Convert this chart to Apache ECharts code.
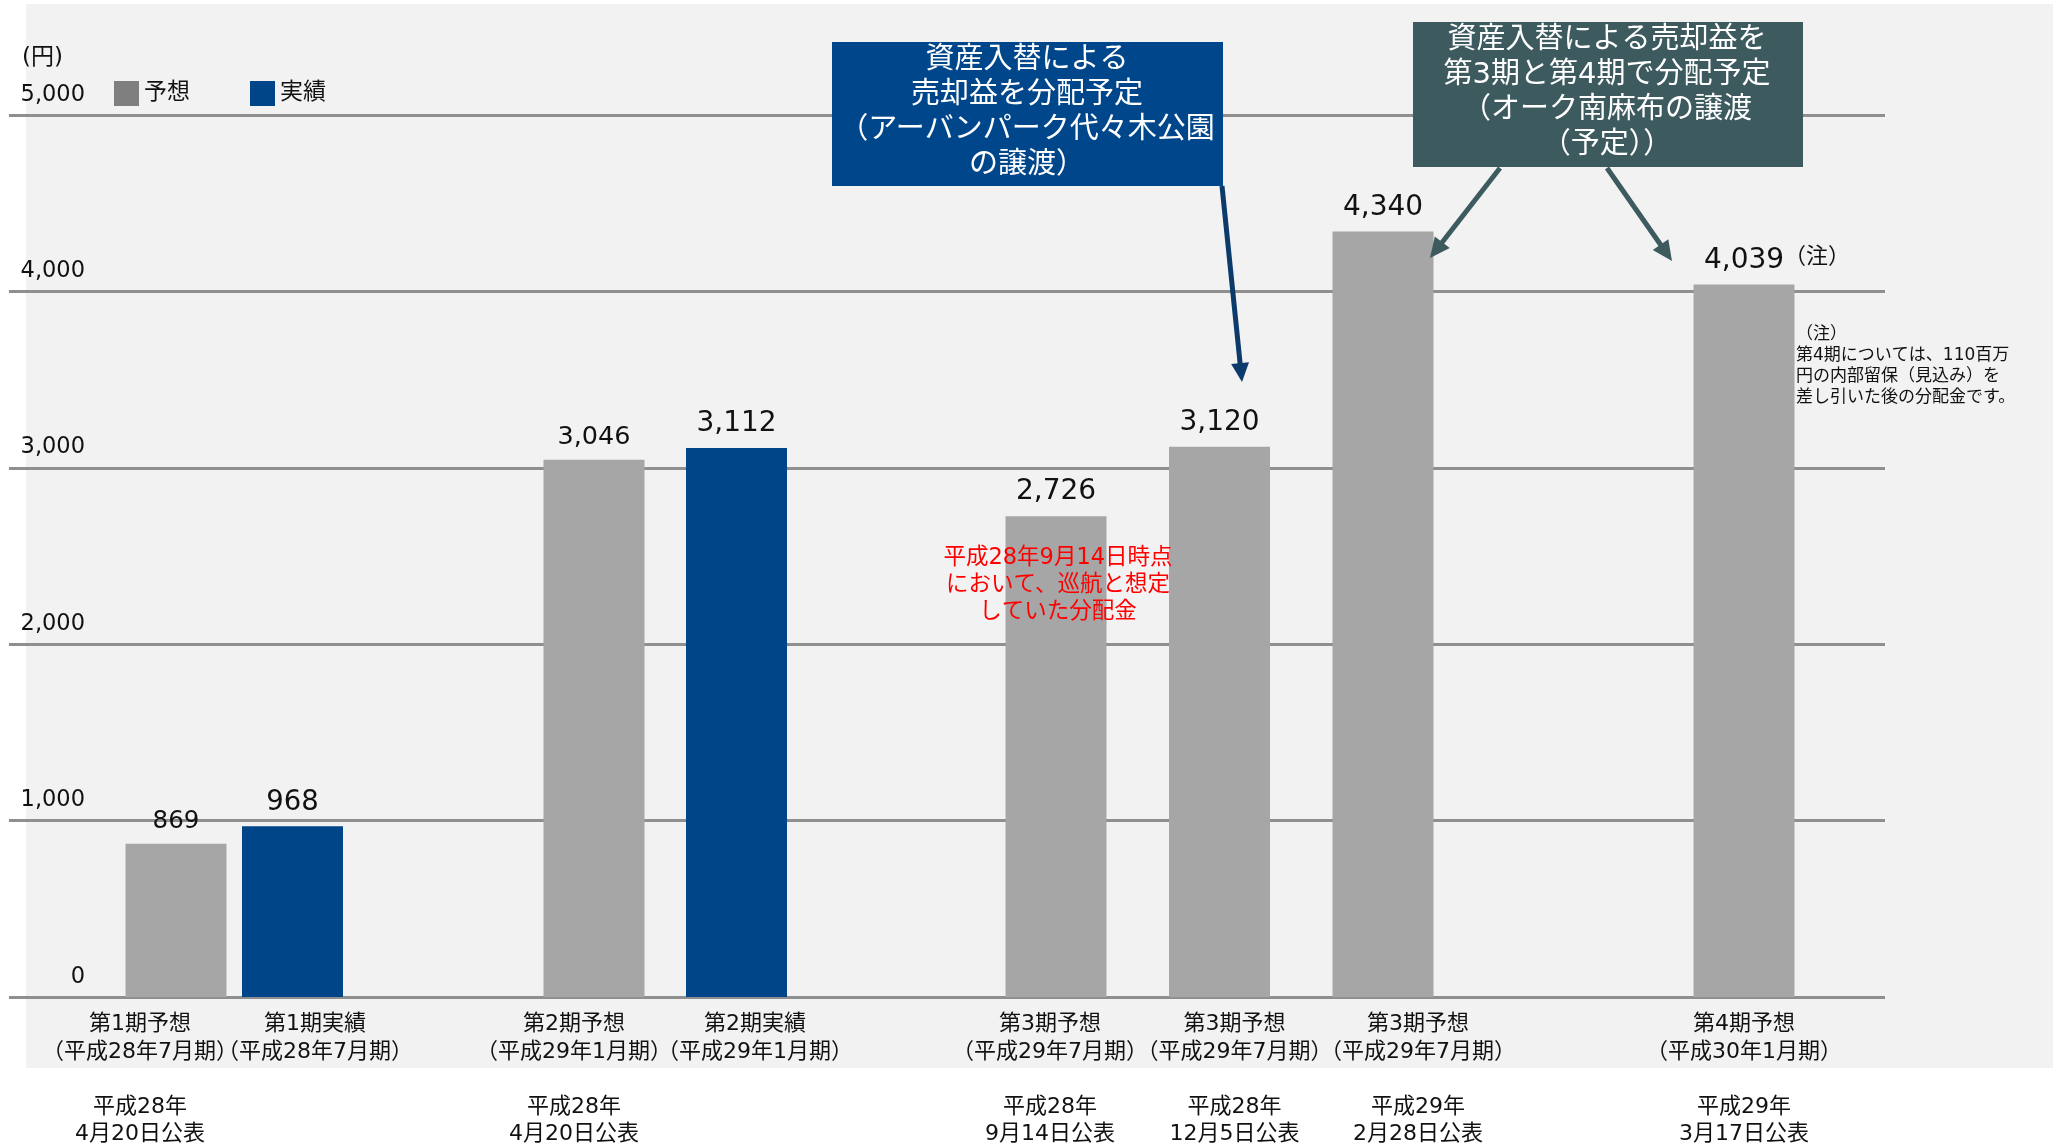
<!DOCTYPE html>
<html><head><meta charset="utf-8">
<script src="https://cdn.jsdelivr.net/npm/echarts@6/dist/echarts.min.js"></script>
<style>html,body{margin:0;padding:0;background:#fff}#c{width:2053px;height:1145px}</style>
</head><body><div id="c"></div>
<script>
// ---------------- DATA ----------------
const periodNames = ['第1期予想','第1期実績','第2期予想','第2期実績','第3期予想','第3期予想','第3期予想','第4期予想'];
const fiscalTerms = ['（平成28年7月期）','（平成28年7月期）','（平成29年1月期）','（平成29年1月期）','（平成29年7月期）','（平成29年7月期）','（平成29年7月期）','（平成30年1月期）'];
const announceDates = ['平成28年\n4月20日公表','','平成28年\n4月20日公表','','平成28年\n9月14日公表','平成28年\n12月5日公表','平成29年\n2月28日公表','平成29年\n3月17日公表'];
const values = [869, 968, 3046, 3112, 2726, 3120, 4340, 4039];
const kinds = ['予想','実績','予想','実績','予想','予想','予想','予想'];
const seriesNames = ['予想','実績'];
const yMin = 0, yMax = 5000, yInterval = 1000;
const unitLabel = '(円)';
const callout1 = ['資産入替による','売却益を分配予定','（アーバンパーク代々木公園','の譲渡）'];
const callout2 = ['資産入替による売却益を','第3期と第4期で分配予定','（オーク南麻布の譲渡','（予定））'];
const redNote = ['平成28年9月14日時点','において、巡航と想定','していた分配金'];
const noteMark = '（注）';
const noteText = ['（注）','第4期については、110百万','円の内部留保（見込み）を','差し引いた後の分配金です。'];

// ---------------- LAYOUT / STYLE ----------------
const FONT = '"DejaVu Sans", "Noto Sans CJK JP", sans-serif';
const TXT = '#111111';
const groupSizes = [2, 2, 3, 1];
const groupBoxes = [
  {left: 117.75, width: 233},
  {left: 522.75, width: 285},
  {left: 974.25, width: 490.5},
  {left: 1644, width: 200}
];
const labelShift = [-36, 22.5, -20, 18.5, -6, 15, 35, 0];
const valueLabelSizes = [24.5, 27.5, 25.5, 28, 28, 28, 28, 28];
const kindColors = {'予想': '#a6a6a6', '実績': '#004587'};
const legendColors = {'予想': '#7f7f7f', '実績': '#004587'};
const PLOT_TOP = 115, PLOT_BOTTOM = 1145 - 997;

const fmt = v => Number(v).toLocaleString('en-US');

const grids = [{left: 9, width: 1876, top: PLOT_TOP, bottom: PLOT_BOTTOM, outerBoundsMode: 'none', containLabel: false}];
const xAxes = [{gridIndex: 0, type: 'value', show: false, min: 0, max: 1}];
const yAxes = [{
  gridIndex: 0, type: 'value', min: yMin, max: yMax, interval: yInterval,
  name: unitLabel, nameLocation: 'end', nameGap: 57,
  nameTextStyle: {align: 'left', verticalAlign: 'middle', padding: [0, 0, 0, 13], fontSize: 23, color: TXT, fontFamily: FONT},
  axisLine: {show: false}, axisTick: {show: false},
  axisLabel: {inside: true, margin: 76, align: 'right', verticalAlign: 'bottom', padding: [0, 0, 9, 0],
    fontSize: 22.5, color: TXT, fontFamily: FONT, formatter: v => fmt(v)},
  splitLine: {show: true, lineStyle: {color: '#8f8f8f', width: 3}}
}];
const series = [];

let k0 = 0;
groupSizes.forEach((n, g) => {
  const gi = g + 1;
  const idx = [];
  for (let j = 0; j < n; j++) idx.push(k0 + j);
  k0 += n;
  grids.push({left: groupBoxes[g].left, width: groupBoxes[g].width, top: PLOT_TOP, bottom: PLOT_BOTTOM, outerBoundsMode: 'none', containLabel: false});
  xAxes.push({
    gridIndex: gi, type: 'category',
    data: idx.map(k => {
      const d = labelShift[k];
      const txt = periodNames[k] + '\n' + fiscalTerms[k] + (announceDates[k] ? '\n\n' + announceDates[k] : '');
      return {value: txt, textStyle: {padding: d >= 0 ? [0, 0, 0, 2 * d] : [0, -2 * d, 0, 0]}};
    }),
    axisLine: {show: false}, axisTick: {show: false}, splitLine: {show: false},
    axisLabel: {interval: 0, margin: 14, fontSize: 22, lineHeight: 27.5, color: TXT, fontFamily: FONT, align: 'center', verticalAlign: 'top'}
  });
  yAxes.push({gridIndex: gi, type: 'value', min: yMin, max: yMax, show: false, splitLine: {show: false}});
  seriesNames.forEach(name => {
    series.push({
      type: 'bar', name, xAxisIndex: gi, yAxisIndex: gi,
      barWidth: 101, barGap: '-100%',
      itemStyle: {color: kindColors[name]},
      label: {show: true, position: 'top', distance: 10, color: TXT, fontFamily: FONT, formatter: p => fmt(p.value)},
      data: idx.map(k => kinds[k] === name ? {value: values[k], label: {fontSize: valueLabelSizes[k]}} : '-')
    });
  });
});

function arrow(x1, y1, x2, y2, color, w, headLen, headW) {
  const dx = x2 - x1, dy = y2 - y1, L = Math.hypot(dx, dy), ux = dx / L, uy = dy / L;
  const bx = x2 - ux * headLen, by = y2 - uy * headLen;
  const px = -uy, py = ux;
  return [
    {type: 'line', z: 10, silent: true, shape: {x1, y1, x2: bx + ux * 2, y2: by + uy * 2}, style: {stroke: color, lineWidth: w}},
    {type: 'polygon', z: 10, silent: true, shape: {points: [[x2, y2], [bx + px * headW / 2, by + py * headW / 2], [bx - px * headW / 2, by - py * headW / 2]]}, style: {fill: color}}
  ];
}

const graphics = [
  {type: 'rect', z: -10, silent: true, shape: {x: 26, y: 4, width: 2027, height: 1064}, style: {fill: '#f2f2f2'}},
  {type: 'rect', z: 10, silent: true, shape: {x: 832, y: 42, width: 391, height: 144}, style: {fill: '#00468b'}},
  {type: 'text', z: 11, silent: true, x: 1027, y: 113, style: {text: callout1.join('\n'), fontSize: 29, lineHeight: 35, fontFamily: FONT, fill: '#ffffff', align: 'center', verticalAlign: 'middle'}},
  {type: 'rect', z: 10, silent: true, shape: {x: 1413, y: 22, width: 390, height: 145}, style: {fill: '#3d5a5f'}},
  {type: 'text', z: 11, silent: true, x: 1607, y: 93, style: {text: callout2.join('\n'), fontSize: 29, lineHeight: 35, fontFamily: FONT, fill: '#ffffff', align: 'center', verticalAlign: 'middle'}},
  ...arrow(1222, 186, 1242, 382, '#0b3a6b', 5, 19, 18),
  ...arrow(1500, 168, 1430, 258, '#3d5a5f', 5, 20, 19),
  ...arrow(1607, 168, 1672, 261, '#3d5a5f', 5, 20, 19),
  {type: 'text', z: 11, silent: true, x: 1058, y: 585, style: {text: redNote.join('\n'), fontSize: 22.5, lineHeight: 27, fontFamily: FONT, fill: '#ff0000', align: 'center', verticalAlign: 'middle'}},
  {type: 'text', z: 11, silent: true, x: 1784, y: 257, style: {text: noteMark, fontSize: 22, fontFamily: FONT, fill: TXT, align: 'left', verticalAlign: 'middle'}},
  {type: 'text', z: 11, silent: true, x: 1796, y: 324.5, style: {text: noteText.join('\n'), fontSize: 17, lineHeight: 21, fontFamily: FONT, fill: TXT, align: 'left', verticalAlign: 'top'}}
];

const chart = echarts.init(document.getElementById('c'), null, {renderer: 'canvas'});
chart.setOption({
  animation: false,
  backgroundColor: '#ffffff',
  textStyle: {fontFamily: FONT},
  legend: {
    data: seriesNames.map(n => ({name: n, itemStyle: {color: legendColors[n]}})),
    left: 114, top: 81, icon: 'rect', itemWidth: 25, itemHeight: 25, itemGap: 60, padding: 0,
    selectedMode: false, textStyle: {fontSize: 23, color: TXT, fontFamily: FONT}
  },
  grid: grids, xAxis: xAxes, yAxis: yAxes, series,
  graphic: {elements: graphics}
});
</script></body></html>
